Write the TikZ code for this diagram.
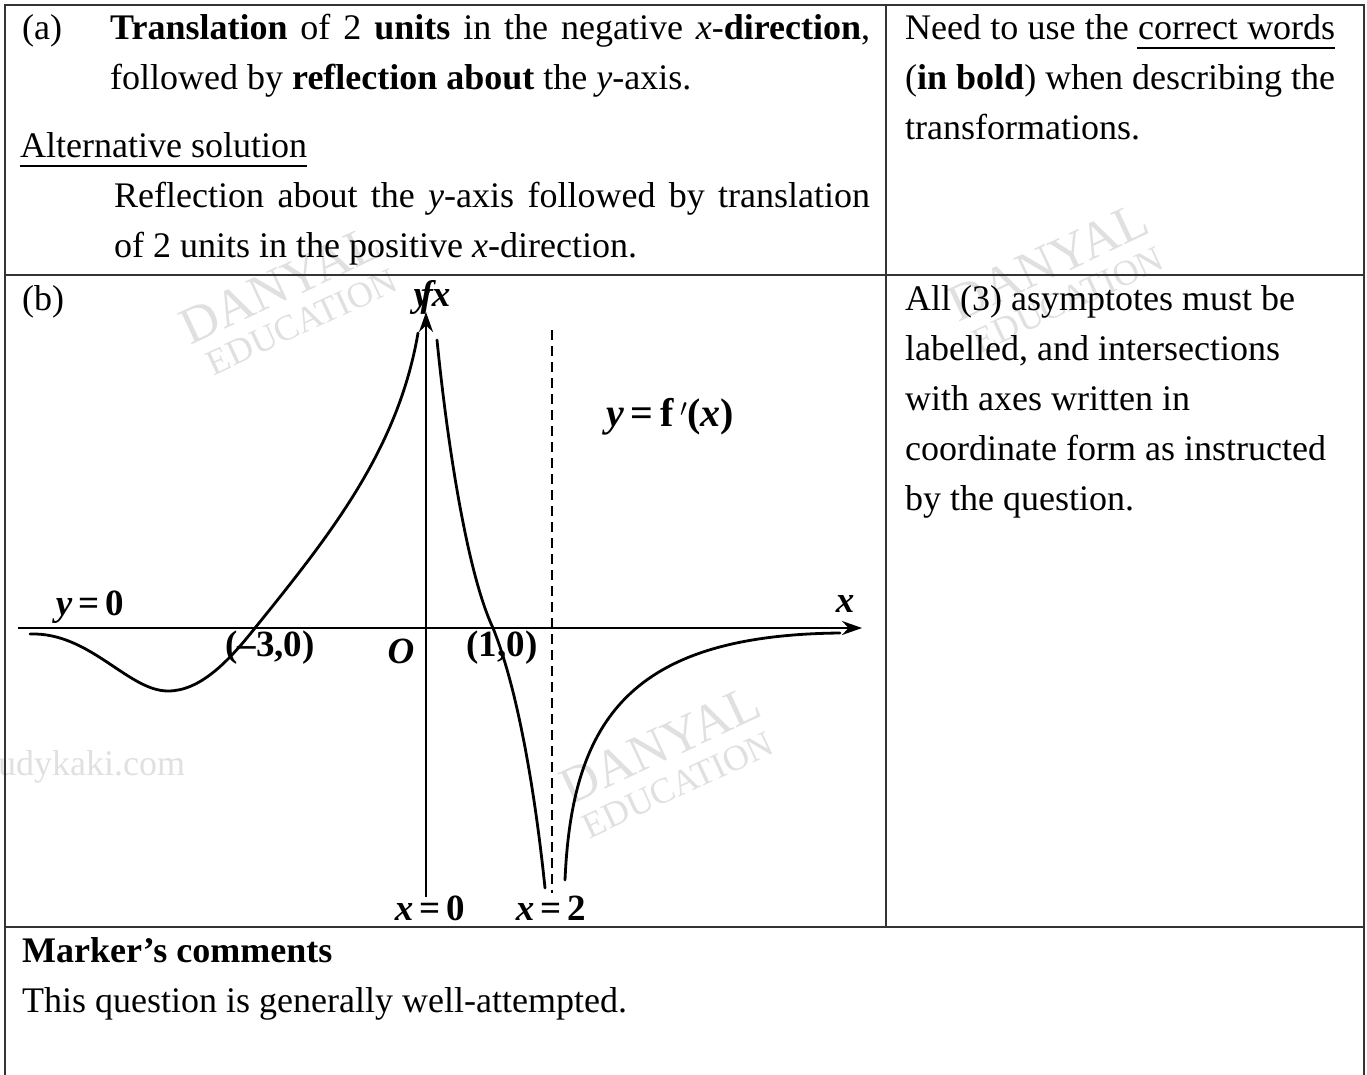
\documentclass[tikz,border=0pt]{standalone}
\usepackage{fontspec}
\setmainfont{Liberation Serif}
\usetikzlibrary{arrows.meta}
\begin{document}
\begin{tikzpicture}[x=1pt,y=-1pt,
  txt/.style={anchor=base west, inner sep=0pt, font=\fontsize{36}{50}\selectfont},
  lbl/.style={inner sep=0pt, font=\fontsize{37}{40}\selectfont\bfseries},
  wm/.style={inner sep=0pt, text=black!12, rotate=25},
  rule/.style={line width=1.8pt, draw=black!80},
  curve/.style={line width=2.8pt, line cap=round},
  axis/.style={line width=2pt, -{Stealth[length=20pt,width=14pt]}}]
\useasboundingbox (0,0) rectangle (1367,1075);
% watermarks
\node[wm, font=\fontsize{52}{52}\selectfont] (w1a) at (280,285) {DANYAL};
\node[wm, font=\fontsize{36}{36}\selectfont] (w1b) at (302,322) {EDUCATION};
\node[wm, font=\fontsize{52}{52}\selectfont] (w2a) at (1048,262) {DANYAL};
\node[wm, font=\fontsize{36}{36}\selectfont] (w2b) at (1068,300) {EDUCATION};
\node[wm, font=\fontsize{52}{52}\selectfont] (w3a) at (660,745) {DANYAL};
\node[wm, font=\fontsize{36}{36}\selectfont] (w3b) at (678,785) {EDUCATION};
\node[inner sep=0pt, anchor=base west, text=black!12, font=\fontsize{36}{36}\selectfont] (w4) at (-2,775) {udykaki.com};
% table rules
\draw[rule] (5,1075) -- (5,5) -- (1364,5) -- (1364,1075);
\draw[rule] (886,5) -- (886,927);
\draw[rule] (5,275) -- (1364,275);
\draw[rule] (5,927) -- (1364,927);
% part (a)
\node[txt] (a0) at (22,40) {(a)};
\node[txt] (a1) at (110,40) {\makebox[760pt][s]{\textbf{Translation} of 2 \textbf{units} in the negative \textit{x}-\textbf{direction},}};
\node[txt] (a2) at (110,90) {followed by \textbf{reflection about} the \textit{y}-axis.};
\node[txt] (a3) at (20,158) {Alternative solution};
\draw[line width=1.3pt] (a3.base west) ++(0,8) -- ++(287,0);
\node[txt] (a4) at (114,208) {\makebox[756pt][s]{Reflection about the \textit{y}-axis followed by translation}};
\node[txt] (a5) at (114,258) {of 2 units in the positive \textit{x}-direction.};
\node[txt] (r1) at (905,40) {\makebox[430pt][s]{Need to use the correct words}};
\draw[line width=1.3pt] (1137,48) -- (1335,48);
\node[txt] (r2) at (905,90) {\makebox[430pt][s]{(\textbf{in bold}) when describing the}};
\node[txt] (r3) at (905,140) {transformations.};
% part (b)
\node[txt] (b0) at (22,310) {(b)};
\node[txt] (s1) at (905,310) {All (3) asymptotes must be};
\node[txt] (s2) at (905,360) {labelled, and intersections};
\node[txt] (s3) at (905,410) {with axes written in};
\node[txt] (s4) at (905,460) {coordinate form as instructed};
\node[txt] (s5) at (905,510) {by the question.};
% marker's comments
\node[txt] (m1) at (22,962) {\textbf{Marker’s comments}};
\node[txt] (m2) at (22,1012) {This question is generally well-attempted.};
% graph
\coordinate (xs) at (18,628);
\coordinate (xe) at (862,628);
\coordinate (ys) at (426,897);
\coordinate (ye) at (426,312);
\draw[axis] (xs) -- (xe);
\draw[axis] (ys) -- (ye);
\coordinate (ds) at (552,330);
\coordinate (de) at (552,893);
\draw[line width=2.2pt, dash pattern=on 10pt off 6pt] (ds) -- (de);
\coordinate (l0) at (30,634);
\coordinate (lmin) at (168,691);
\coordinate (lz) at (255,628);
\coordinate (ltop) at (418,333);
\draw[curve] (l0) .. controls (90,632) and (128,691) .. (lmin)
  .. controls (200,691) and (228,662) .. (lz)
  .. controls (330,535) and (398,450) .. (ltop);
\coordinate (m0) at (437,340);
\coordinate (mz) at (493,628);
\coordinate (mb) at (545,888);
\draw[curve] (m0) .. controls (448,450) and (468,575) .. (mz)
  .. controls (522,700) and (538,820) .. (mb);
\coordinate (n0) at (565,880);
\coordinate (n1) at (840,633);
\draw[curve] (n0) .. controls (572,720) and (630,635) .. (n1);
% graph labels
\node[lbl, anchor=base] (lx) at (845,612) {\textit{x}};
\node[lbl, anchor=base] (ly0) at (90,615) {\textit{y}\,=\,0};
\node[lbl, anchor=base] (p1) at (270,656) {(–3,0)};
\node[lbl, anchor=base] (po) at (401,663) {\textit{O}};
\node[lbl, anchor=base] (p2) at (502,656) {(1,0)};
\node[lbl, anchor=base, font=\fontsize{40}{44}\selectfont\bfseries] (lf) at (670,426) {\textit{y}\,=\,f\,$'$(\textit{x})};
\node[lbl, anchor=base] (lx0) at (430,920) {\textit{x}\,=\,0};
\node[lbl, anchor=base] (lx2) at (551,920) {\textit{x}\,=\,2};
\node[lbl, anchor=base] (lyf) at (432,306) {\rlap{\textit{y}}\hspace{7pt}\textit{f}\hspace{-4pt}\textit{x}};
\end{tikzpicture}
\end{document}
